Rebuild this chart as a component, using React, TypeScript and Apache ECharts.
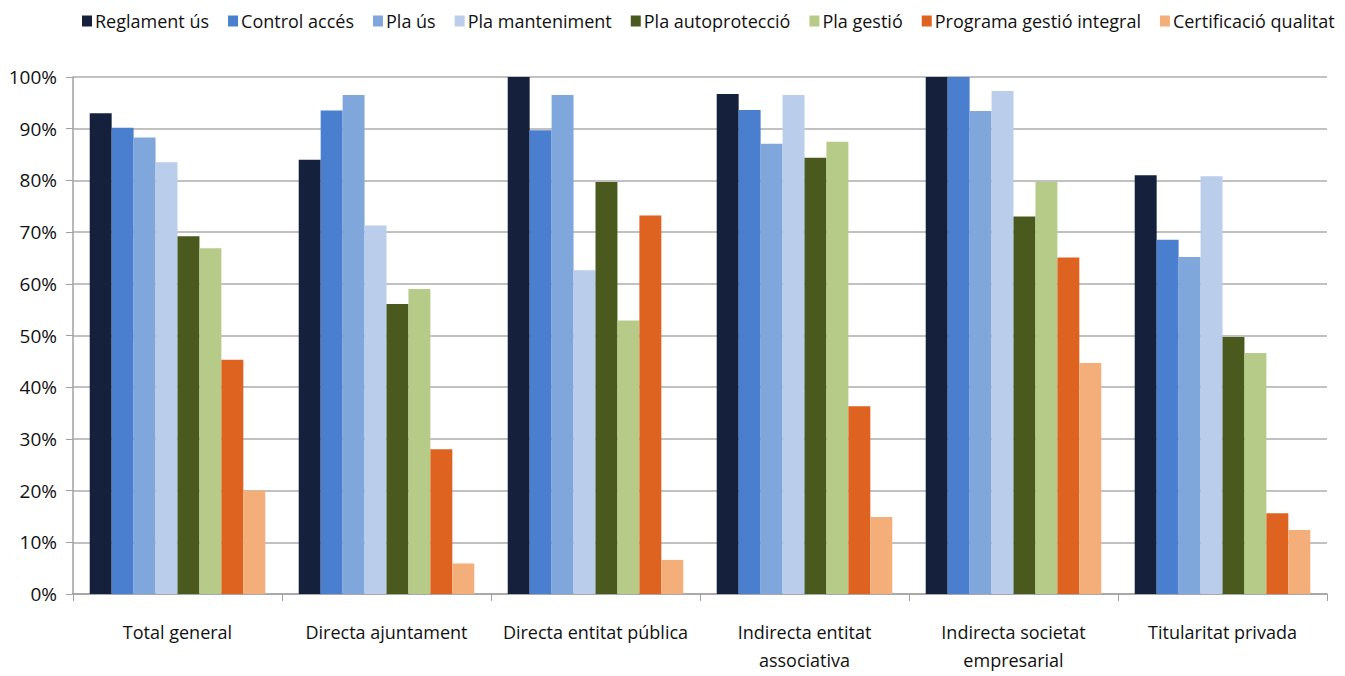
import React, { useEffect, useRef } from "react";
import * as echarts from "echarts";

const categories = [
  "Total general",
  "Directa ajuntament",
  "Directa entitat pública",
  "Indirecta entitat\nassociativa",
  "Indirecta societat\nempresarial",
  "Titularitat privada",
];

const seriesNames = [
  "Reglament ús",
  "Control accés",
  "Pla ús",
  "Pla manteniment",
  "Pla autoprotecció",
  "Pla gestió",
  "Programa gestió integral",
  "Certificació qualitat",
];

const reglamentUs = [93, 84, 100, 96.7, 100, 81];
const controlAcces = [90.2, 93.5, 89.7, 93.6, 100, 68.5];
const plaUs = [88.3, 96.5, 96.5, 87.1, 93.4, 65.2];
const plaManteniment = [83.5, 71.3, 62.6, 96.5, 97.3, 80.8];
const plaAutoproteccio = [69.2, 56.1, 79.7, 84.4, 73, 49.7];
const plaGestio = [66.9, 59, 52.9, 87.5, 79.7, 46.6];
const programaGestioIntegral = [45.3, 28, 73.2, 36.3, 65.1, 15.6];
const certificacioQualitat = [20, 5.9, 6.6, 14.9, 44.7, 12.4];

const yTicks = [0, 10, 20, 30, 40, 50, 60, 70, 80, 90, 100];

const seriesData = [
  reglamentUs,
  controlAcces,
  plaUs,
  plaManteniment,
  plaAutoproteccio,
  plaGestio,
  programaGestioIntegral,
  certificacioQualitat,
];

const colors = [
  "#14203c",
  "#4a7fd0",
  "#80a7dc",
  "#bacdea",
  "#4a5a1f",
  "#b7cb88",
  "#de6220",
  "#f3ae79",
];

const FONT = "'Open Sans', sans-serif";

export default function App() {
  const ref = useRef<HTMLDivElement>(null);
  useEffect(() => {
    if (!ref.current) return;
    const chart = echarts.init(ref.current, null, { renderer: "svg" });
    chart.setOption({
      animation: false,
      color: colors,
      legend: {
        top: 12,
        left: 82,
        right: 0,
        padding: 0,
        itemWidth: 10,
        itemHeight: 11,
        itemGap: 19,
        icon: "rect",
        textStyle: { fontFamily: FONT, fontSize: 18, color: "#111", padding: [0, 0, 0, -2] },
        data: seriesNames,
      },
      grid: { left: 73, right: 18, top: 77, bottom: 82, containLabel: false },
      xAxis: {
        type: "category",
        data: categories,
        axisLine: { lineStyle: { color: "#a0a0a0", width: 1.5 } },
        axisTick: { show: true, length: 7, lineStyle: { color: "#a0a0a0" } },
        axisLabel: {
          fontFamily: FONT,
          fontSize: 18,
          color: "#111",
          margin: 24,
          lineHeight: 28,
          interval: 0,
        },
      },
      yAxis: {
        type: "value",
        min: 0,
        max: 100,
        interval: 10,
        axisLine: { show: true, lineStyle: { color: "#a0a0a0", width: 1.5 } },
        axisTick: { show: true, length: 7, lineStyle: { color: "#a0a0a0" } },
        axisLabel: {
          fontFamily: FONT,
          fontSize: 19,
          color: "#111",
          margin: 16,
          formatter: (v: number) => (yTicks.includes(v) ? v + "%" : ""),
        },
        splitLine: { lineStyle: { color: "#adadad", width: 1.5 } },
      },
      series: seriesNames.map((name, i) => ({
        name,
        type: "bar",
        data: seriesData[i],
        barGap: "0%",
        barCategoryGap: "16%",
      })),
    });
    return () => chart.dispose();
  }, []);
  return (
    <div
      ref={ref}
      style={{ position: "absolute", left: 0, top: 0, width: 1345, height: 676 }}
    />
  );
}
